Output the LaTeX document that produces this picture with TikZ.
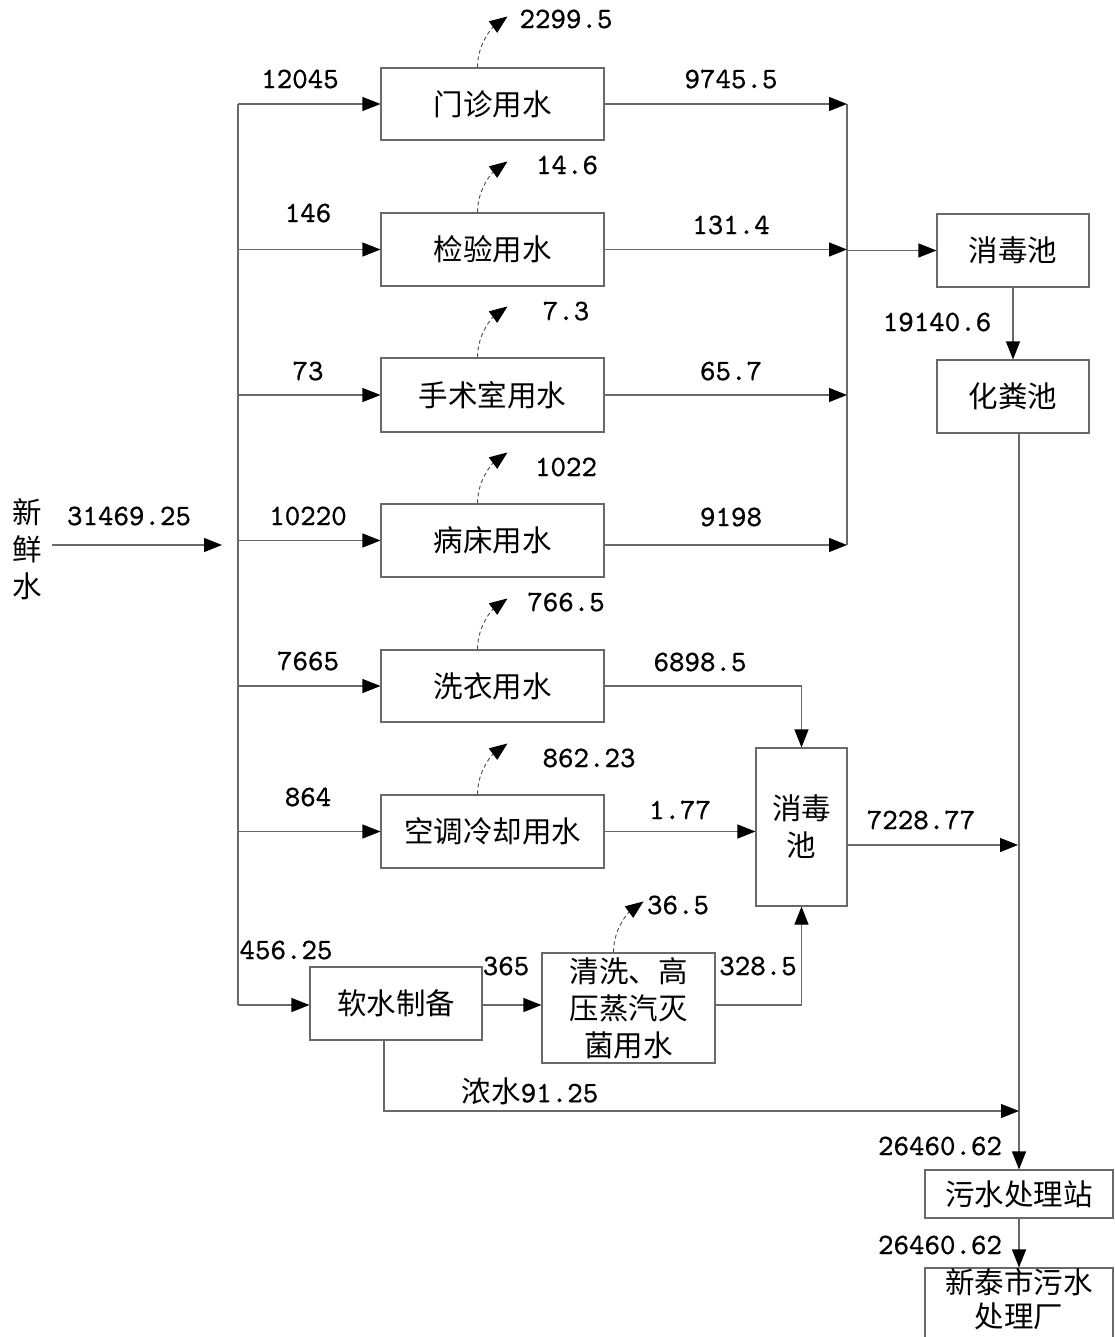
\documentclass[tikz,border=0pt]{standalone}
\usepackage{fontspec}
\newfontfamily\cjk{Noto Sans CJK SC}
\newfontfamily\numfont{lmmono10-regular.otf}[FakeBold=0.8]
\usetikzlibrary{arrows.meta}
\definecolor{lg}{RGB}{105,105,105}
\begin{document}
\begin{tikzpicture}[x=1pt,y=-1pt,
  box/.style={draw=lg,line width=1.1pt,inner sep=0pt,align=center,font=\cjk\fontsize{29.5}{37}\selectfont},
  arr/.style={draw=lg,line width=1.1pt,-{Triangle[length=18pt,width=14pt,color=black]}},
  ln/.style={draw=lg,line width=1.1pt},
  evap/.style={draw=black!70,line width=0.9pt,dashed,dash pattern=on 4pt off 3pt,-{Triangle[length=18pt,width=14pt,color=black]}},
  num/.style={inner sep=0pt,font=\numfont\fontsize{29.5}{30}\selectfont},
  lab/.style={inner sep=0pt,font=\cjk\fontsize{29.5}{37}\selectfont}]
\useasboundingbox (0,0) rectangle (1114,1337);

% boxes
\node[box,minimum width=223pt,minimum height=72pt] (mz) at (492.5,104) {门诊用水};
\node[box,minimum width=223pt,minimum height=73pt] (jy) at (492.5,249.5) {检验用水};
\node[box,minimum width=223pt,minimum height=74pt] (ss) at (492.5,395) {手术室用水};
\node[box,minimum width=223pt,minimum height=73pt] (bc) at (492.5,540.5) {病床用水};
\node[box,minimum width=223pt,minimum height=72pt] (xy) at (492.5,686) {洗衣用水};
\node[box,minimum width=223pt,minimum height=73pt] (kt) at (492.5,831.5) {空调冷却用水};
\node[box,minimum width=152pt,minimum height=73pt] (xd1) at (1013,250.5) {消毒池};
\node[box,minimum width=152pt,minimum height=73pt] (hf) at (1013,396.5) {化粪池};
\node[box,minimum width=91pt,minimum height=158pt] (xd2) at (801.5,827) {消毒\\池};
\node[box,minimum width=172pt,minimum height=73pt] (rs) at (396,1003.5) {软水制备};
\node[box,minimum width=173pt,minimum height=110pt] (qx) at (628.5,1008) {清洗、高\\压蒸汽灭\\菌用水};
\node[box,minimum width=188pt,minimum height=48pt] (ws) at (1019,1194) {污水处理站};
\node[box,minimum width=188pt,minimum height=80pt] (fac) at (1019,1308) {};
\node[lab] (factxt) at (1019,1303) {\begin{tabular}{@{}c@{}}新泰市污水\\[-3pt]处理厂\end{tabular}};

% fresh water
\node[lab,align=center] (fresh) at (27,549) {新\\鲜\\水};
\coordinate (fw1) at (52,545);
\coordinate (fw2) at (222,545);
\draw[arr] (fw1) -- (fw2);
\node[num] (n0) at (129,516) {31469.25};

% left distributor
\coordinate (Ltop) at (238,104);
\coordinate (Lbot) at (238,1005);
\draw[ln] (Ltop) -- (Lbot);
\draw[arr] (Ltop) -- (mz.west);
\draw[arr] (Ltop |- jy.west) -- (jy.west);
\draw[arr] (Ltop |- ss.west) -- (ss.west);
\draw[arr] (Ltop |- bc.west) -- (bc.west);
\draw[arr] (Ltop |- xy.west) -- (xy.west);
\draw[arr] (Ltop |- kt.west) -- (kt.west);
\draw[arr] (Lbot) -- (rs.west |- Lbot);
\node[num] (n1) at (300,79) {12045};
\node[num] (n2) at (308,213) {146};
\node[num] (n3) at (308,371) {73};
\node[num] (n4) at (308,516) {10220};
\node[num] (n5) at (308,661) {7665};
\node[num] (n6) at (308,797) {864};
\node[num] (n7) at (286,950) {456.25};

% right collector
\coordinate (R1) at (847,104);
\coordinate (R4) at (847,545);
\draw[ln] (R1) -- (R4);
\draw[arr] (mz.east) -- (R1);
\draw[arr] (jy.east) -- (R1 |- jy.east);
\draw[arr] (ss.east) -- (R1 |- ss.east);
\draw[arr] (bc.east |- R4) -- (R4);
\draw[arr] (R1 |- xd1.west) -- (xd1.west);
\node[num] (o1) at (731,79) {9745.5};
\node[num] (o2) at (731,225) {131.4};
\node[num] (o3) at (731,371) {65.7};
\node[num] (o4) at (731,517) {9198};

% right chain
\draw[arr] (xd1.south) -- (hf.north);
\node[num] (o5) at (937,322) {19140.6};
\coordinate (V) at (1019,433);
\draw[arr] (V) -- (ws.north);
\node[num] (o6) at (940,1146) {26460.62};
\draw[arr] (ws.south) -- (fac.north);
\node[num] (o7) at (940,1245) {26460.62};

% lower part
\draw[arr] (xy.east) -| (xd2.north);
\node[num] (o8) at (700,662) {6898.5};
\draw[arr] (kt.east) -- (kt.east -| xd2.west);
\node[num] (o9) at (680,810) {1.77};
\coordinate (c7) at (1018,845);
\draw[arr] (xd2.east |- c7) -- (c7);
\node[num] (o10) at (921,820) {7228.77};
\draw[arr] (qx.east |- Lbot) -| (xd2.south);
\node[num] (o11) at (758,966) {328.5};
\draw[arr] (rs.east |- Lbot) -- (qx.west |- Lbot);
\node[num] (o12) at (506,966) {365};
\coordinate (c8) at (1019,1111);
\draw[arr] ([xshift=-12pt]rs.south) |- (c8);
\node[lab] (o13) at (530,1091) {浓水{\numfont\fontsize{29.5}{30}\selectfont 91.25}};

% evaporation (dashed)
\newcommand\evapfrom[1]{\draw[evap] ([xshift=-15pt]#1.north) .. controls ([xshift=-15pt,yshift=24pt]#1.north) and ([xshift=0pt,yshift=40pt]#1.north) .. ([xshift=15pt,yshift=51pt]#1.north);}
\evapfrom{mz}
\evapfrom{jy}
\evapfrom{ss}
\evapfrom{bc}
\evapfrom{xy}
\evapfrom{kt}
\evapfrom{qx}
\node[num] (e1) at (566,19) {2299.5};
\node[num] (e2) at (567,165) {14.6};
\node[num] (e3) at (566,311) {7.3};
\node[num] (e4) at (566,467) {1022};
\node[num] (e5) at (566,602) {766.5};
\node[num] (e6) at (589,758) {862.23};
\node[num] (e7) at (678,905) {36.5};
\end{tikzpicture}
\end{document}
